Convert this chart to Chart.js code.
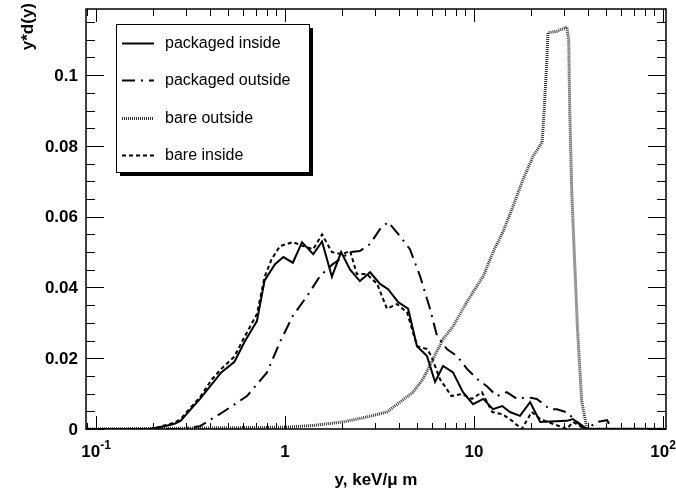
<!DOCTYPE html>
<html>
<head>
<meta charset="utf-8">
<script src="https://cdn.jsdelivr.net/npm/chart.js@4.4.0/dist/chart.umd.min.js"></script>
<style>
  html, body { margin: 0; padding: 0; background: #fff; }
  canvas { display: block; }
</style>
</head>
<body>
<canvas id="myChart" width="676" height="491"></canvas>
<script>
// lineal energy spectra, y*d(y) against y (keV/um)
const seriesNames = ['packaged inside', 'packaged outside', 'bare outside', 'bare inside'];

const packagedInsideX = [0.0885, 0.19, 0.23, 0.26, 0.28, 0.31, 0.355, 0.41, 0.46, 0.54, 0.61, 0.71, 0.78, 0.885, 0.98, 1.10, 1.23, 1.41, 1.57, 1.77, 1.98, 2.21, 2.49, 2.82, 3.18, 3.51, 3.96, 4.48, 4.99, 5.64, 6.22, 6.86, 7.74, 8.74, 9.88, 11.2, 12.6, 14.1, 15.5, 17.5, 19.8, 22.4, 31.0, 33.4, 38.7, 104];
const packagedInsideY = [0, 0, 0.0008, 0.0015, 0.0023, 0.005, 0.0085, 0.0127, 0.016, 0.019, 0.0246, 0.0305, 0.042, 0.0466, 0.0486, 0.047, 0.0528, 0.0494, 0.053, 0.043, 0.050, 0.045, 0.0418, 0.0443, 0.041, 0.0395, 0.0359, 0.034, 0.0234, 0.0206, 0.0133, 0.0178, 0.016, 0.0104, 0.007, 0.0085, 0.0056, 0.0065, 0.0048, 0.0037, 0.0076, 0.002, 0.0023, 0.0028, 0, 0];

const packagedOutsideX = [0.0885, 0.27, 0.355, 0.47, 0.629, 0.803, 0.941, 1.10, 1.31, 1.53, 1.79, 2.21, 2.49, 2.82, 3.18, 3.51, 4.06, 4.58, 5.18, 5.85, 6.37, 7.19, 8.13, 9.18, 10.4, 11.7, 13.2, 14.9, 16.9, 19.1, 21.5, 25.2, 27.5, 31.0, 35.1, 39.6, 44.8, 50.6, 53.6, 104];
const packagedOutsideY = [0, 0, 0.0008, 0.0048, 0.0093, 0.016, 0.0246, 0.032, 0.0376, 0.0432, 0.0466, 0.050, 0.0503, 0.0523, 0.0565, 0.0585, 0.0545, 0.0508, 0.0432, 0.034, 0.0263, 0.0226, 0.0206, 0.017, 0.0141, 0.0121, 0.0093, 0.0104, 0.0085, 0.009, 0.0085, 0.0056, 0.0056, 0.0047, 0.002, 0, 0.002, 0.0025, 0, 0];

const bareOutsideX = [0.0885, 1.0, 1.41, 2.03, 2.71, 3.46, 4.06, 4.75, 5.37, 6.07, 6.86, 7.74, 8.74, 9.88, 11.2, 12.6, 14.2, 16.1, 18.2, 20.5, 22.9, 23.5, 24.3, 24.6, 27.5, 31.0, 31.7, 32.1, 32.9, 33.9, 35.3, 37.1, 39.6, 104];
const bareOutsideY = [0, 0.0005, 0.001, 0.002, 0.0034, 0.0048, 0.0076, 0.0104, 0.0141, 0.0198, 0.0254, 0.029, 0.034, 0.0387, 0.0432, 0.050, 0.0556, 0.063, 0.0706, 0.077, 0.081, 0.090, 0.1045, 0.112, 0.1124, 0.1136, 0.110, 0.090, 0.067, 0.05, 0.028, 0.008, 0, 0];

const bareInsideX = [0.0885, 0.20, 0.23, 0.26, 0.28, 0.31, 0.355, 0.41, 0.46, 0.54, 0.61, 0.71, 0.78, 0.85, 0.94, 1.10, 1.25, 1.41, 1.57, 1.77, 2.0, 2.21, 2.4, 2.71, 3.07, 3.46, 3.91, 4.42, 5.0, 5.64, 5.95, 6.6, 7.6, 8.6, 9.75, 11.0, 12.5, 14.1, 15.9, 17.9, 20.2, 22.4, 31.0, 33.4, 38.7, 104];
const bareInsideY = [0, 0, 0.001, 0.0018, 0.0028, 0.0055, 0.009, 0.014, 0.017, 0.0205, 0.026, 0.0325, 0.043, 0.048, 0.0517, 0.0528, 0.0517, 0.0508, 0.055, 0.050, 0.0494, 0.0503, 0.0438, 0.0438, 0.041, 0.034, 0.0353, 0.033, 0.0234, 0.0226, 0.0206, 0.0141, 0.0093, 0.0099, 0.0085, 0.0104, 0.0048, 0.0042, 0.0023, 0, 0.0048, 0.0028, 0, 0.002, 0];

const xTickValues = [0.1, 1, 10, 100];
const xTickLabels = [['10', '-1'], ['1', ''], ['10', ''], ['10', '2']];
const yTickValues = [0, 0.02, 0.04, 0.06, 0.08, 0.1];
const yTickLabels = ['0', '0.02', '0.04', '0.06', '0.08', '0.1'];

const toPoints = (xs, ys) => xs.map((x, i) => ({ x: x, y: ys[i] }));

const boldFont = 'bold 17px "Liberation Sans", Arial, sans-serif';

// frame, inward ticks on all four sides, tick labels and titles
const framePlugin = {
    id: 'frame',
    afterDatasetsDraw(chart) {
        const ctx = chart.ctx;
        const area = chart.chartArea;
        const xs = chart.scales.x;
        const ys = chart.scales.y;
        ctx.save();
        ctx.strokeStyle = '#000';
        ctx.lineWidth = 1;

        // x ticks, log decades
        for (let d = -2; d <= 2; d++) {
            for (let m = 1; m <= 9; m++) {
                const v = m * Math.pow(10, d);
                if (v < xs.min || v > xs.max) continue;
                const px = Math.round(xs.getPixelForValue(v)) + 0.5;
                const len = m === 1 ? 13 : 6;
                ctx.beginPath();
                ctx.moveTo(px, area.bottom);
                ctx.lineTo(px, area.bottom - len);
                ctx.moveTo(px, area.top);
                ctx.lineTo(px, area.top + (m === 1 ? 13 : 7));
                ctx.stroke();
            }
        }

        // y ticks every 0.005
        for (let k = 0; k * 0.005 <= ys.max + 1e-9; k++) {
            const v = k * 0.005;
            const py = Math.round(ys.getPixelForValue(v)) + 0.5;
            const len = k % 4 === 0 ? 18 : 9;
            ctx.beginPath();
            ctx.moveTo(area.left, py);
            ctx.lineTo(area.left + len, py);
            ctx.moveTo(area.right, py);
            ctx.lineTo(area.right - len, py);
            ctx.stroke();
        }

        ctx.lineWidth = 1.5;
        ctx.strokeRect(area.left, area.top, area.right - area.left, area.bottom - area.top);

        // y tick labels
        ctx.fillStyle = '#000';
        ctx.font = boldFont;
        ctx.textAlign = 'right';
        ctx.textBaseline = 'middle';
        yTickValues.forEach((v, i) => {
            ctx.fillText(yTickLabels[i], 78, ys.getPixelForValue(v) + 1);
        });

        // x tick labels with exponents
        ctx.textBaseline = 'alphabetic';
        ctx.textAlign = 'left';
        xTickValues.forEach((v, i) => {
            const base = xTickLabels[i][0];
            const exp = xTickLabels[i][1];
            ctx.font = boldFont;
            const wb = ctx.measureText(base).width;
            ctx.font = 'bold 12px "Liberation Sans", Arial, sans-serif';
            const we = exp ? ctx.measureText(exp).width : 0;
            const px = xs.getPixelForValue(v);
            const start = px - (wb + we) / 2;
            ctx.font = boldFont;
            ctx.fillText(base, start, 457);
            if (exp) {
                ctx.font = 'bold 12px "Liberation Sans", Arial, sans-serif';
                ctx.fillText(exp, start + wb, 449);
            }
        });

        // axis titles
        ctx.font = boldFont;
        ctx.textAlign = 'center';
        ctx.fillText('y, keV/\u03bc m', (area.left + area.right) / 2, 485);

        ctx.translate(28, 3);
        ctx.rotate(-Math.PI / 2);
        ctx.textAlign = 'right';
        ctx.textBaseline = 'middle';
        ctx.fillText('y*d(y)', 0, 0);
        ctx.restore();
    }
};

// boxed legend with drop shadow
const legendPlugin = {
    id: 'boxLegend',
    afterDraw(chart) {
        const ctx = chart.ctx;
        const bx = 116, by = 24, bw = 193, bh = 148;
        ctx.save();
        ctx.fillStyle = '#000';
        ctx.fillRect(bx + 4, by + 4, bw, bh);
        ctx.fillStyle = '#fff';
        ctx.fillRect(bx, by, bw, bh);
        ctx.strokeStyle = '#000';
        ctx.lineWidth = 1;
        ctx.strokeRect(bx + 0.5, by + 0.5, bw, bh);

        const rows = [43, 80, 118, 155];
        chart.data.datasets.forEach((ds, i) => {
            const y = rows[i] + 0.5;
            ctx.strokeStyle = ds.borderColor;
            ctx.lineWidth = ds.borderWidth;
            ctx.setLineDash(ds.borderDash || []);
            ctx.beginPath();
            ctx.moveTo(122, y);
            ctx.lineTo(154, y);
            ctx.stroke();
            ctx.setLineDash([]);
            ctx.fillStyle = '#000';
            ctx.font = '16px "Liberation Sans", Arial, sans-serif';
            ctx.textAlign = 'left';
            ctx.textBaseline = 'middle';
            ctx.fillText(ds.label, 165, rows[i] + 1);
        });
        ctx.restore();
    }
};

const ctx = document.getElementById('myChart').getContext('2d');

const myChart = new Chart(ctx, {
    type: 'line',
    data: {
        datasets: [{
            label: seriesNames[0],
            data: toPoints(packagedInsideX, packagedInsideY),
            borderColor: '#000',
            borderWidth: 2,
        }, {
            label: seriesNames[1],
            data: toPoints(packagedOutsideX, packagedOutsideY),
            borderColor: '#000',
            borderWidth: 2,
            borderDash: [13, 6, 2, 6],
        }, {
            label: seriesNames[2],
            data: toPoints(bareOutsideX, bareOutsideY),
            borderColor: '#333',
            borderWidth: 3,
            borderDash: [1, 1],
        }, {
            label: seriesNames[3],
            data: toPoints(bareInsideX, bareInsideY),
            borderColor: '#000',
            borderWidth: 2,
            borderDash: [4, 3],
        }],
    },
    options: {
        responsive: false,
        animation: false,
        devicePixelRatio: 1,
        layout: {
            padding: { left: 86, top: 9, right: 10, bottom: 62 },
        },
        elements: {
            point: { radius: 0 },
            line: { tension: 0 },
        },
        scales: {
            x: {
                type: 'logarithmic',
                min: 0.0885,
                max: 103.7,
                display: false,
            },
            y: {
                min: 0,
                max: 0.1187,
                display: false,
            },
        },
        plugins: {
            legend: { display: false },
            tooltip: { enabled: false },
        },
    },
    plugins: [framePlugin, legendPlugin],
});
</script>
</body>
</html>
